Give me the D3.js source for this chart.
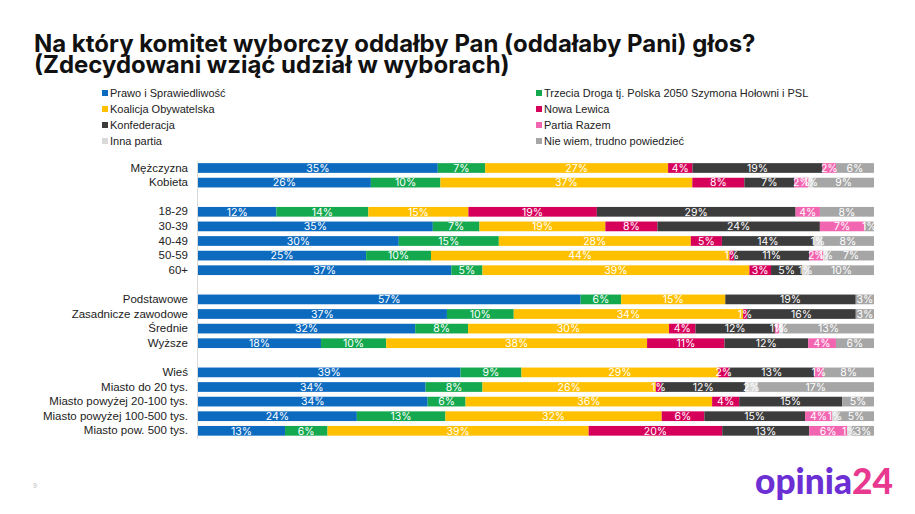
<!DOCTYPE html>
<html><head><meta charset="utf-8">
<script src="https://cdn.jsdelivr.net/npm/d3@7"></script>
<style>
html,body{margin:0;padding:0;background:#fff;}
svg{display:block;}
</style></head>
<body>
<svg id="chart" width="915" height="514"></svg>
<script>
// ---- data ----
const titleLines = ["Na który komitet wyborczy oddałby Pan (oddałaby Pani) głos?", "(Zdecydowani wziąć udział w wyborach)"];
const categories = ["Mężczyzna","Kobieta","","18-29","30-39","40-49","50-59","60+","","Podstawowe","Zasadnicze zawodowe","Średnie","Wyższe","","Wieś","Miasto do 20 tys.","Miasto powyżej 20-100 tys.","Miasto powyżej 100-500 tys.","Miasto pow. 500 tys."];
const seriesNames = ["Prawo i Sprawiedliwość","Trzecia Droga tj. Polska 2050 Szymona Hołowni i PSL","Koalicja Obywatelska","Nowa Lewica","Konfederacja","Partia Razem","Inna partia","Nie wiem, trudno powiedzieć"];
const seriesColors = ["#0d6bbf","#14a84f","#ffc000","#d6005b","#3c3c3c","#f266b1","#d9d9d9","#a6a6a6"];
const pis    = [35.4,25.6,null,11.6,34.7,29.7,24.9,37.4,null,56.6,36.9,32.0,18.1,null,38.8,33.6,33.9,23.5,12.9];
const td     = [7.0,10.3,null,13.6,6.9,14.8,9.6,4.6,null,6.0,9.9,7.8,9.6,null,9.0,8.4,5.6,13.1,6.3];
const ko     = [27.0,37.3,null,14.8,18.6,28.4,44.2,39.4,null,15.4,34.0,29.6,38.4,null,29.1,25.6,36.4,32.0,38.7];
const nl     = [3.6,7.7,null,19.0,7.7,4.6,0.7,3.2,null,0,0.6,3.9,11.4,null,1.6,0.8,4.0,6.3,19.8];
const konf   = [19.2,7.4,null,29.4,24.0,13.6,11.1,4.6,null,19.3,16.1,11.7,12.3,null,12.6,12.4,15.2,14.9,12.9];
const razem  = [2.0,2.1,null,3.6,6.6,0,2.1,0,null,0,0,0.6,4.1,null,1.3,0,0,4.0,5.6];
const inna   = [0,0.7,null,0,0,1.2,0.7,1.0,null,0,0,0.6,0,null,0,1.8,0,0.9,0.7];
const niewiem= [5.6,9.0,null,8.0,1.4,7.7,6.8,9.6,null,2.7,2.7,13.4,5.6,null,7.5,17.2,4.7,5.3,3.3];
const seriesValues = [pis,td,ko,nl,konf,razem,inna,niewiem];

// ---- build table ----
const keys = seriesNames;
const rows = categories.map((c,i)=>{
  const r = {idx:i, label:c, gap: c===""};
  keys.forEach((k,j)=>{ r[k] = seriesValues[j][i] || 0; });
  return r;
});
const dataRows = rows.filter(r=>!r.gap);

const svg = d3.select("#chart");
const W = 915, H = 514;

// title
const titleG = svg.append("g");
const t1 = titleG.append("text").attr("x",34).attr("y",52).text(titleLines[0]);
const t2 = titleG.append("text").attr("x",34).attr("y",73).text(titleLines[1]);
titleG.selectAll("text").attr("font-family","Inter, 'Open Sans', sans-serif").attr("font-weight",700).attr("font-size",22).attr("fill","#111");
const len1 = t1.node().getComputedTextLength();
const fs = 22*722/len1;
titleG.selectAll("text").attr("font-size",fs);

// legend
const legendX = [102, 536];
const legendY = [93, 109, 125, 141];
const lg = svg.append("g");
keys.forEach((k,i)=>{
  const col = i%2, row = Math.floor(i/2);
  const g = lg.append("g").attr("transform",`translate(${legendX[col]},${legendY[row]})`);
  g.append("rect").attr("x",0).attr("y",-3).attr("width",6).attr("height",6).attr("fill",seriesColors[i]);
  g.append("text").attr("x",8).attr("y",0).attr("dy","0.35em")
    .attr("font-family","'Liberation Sans', Arial, sans-serif").attr("font-size",11).attr("fill","#222").text(k);
});

// scales
const x = d3.scaleLinear().domain([0,1]).range([198,874]);
const y = d3.scaleBand().domain(d3.range(categories.length)).range([160.7,438.1]).paddingInner(0.335).paddingOuter(0.1675);
const color = d3.scaleOrdinal().domain(keys).range(seriesColors);

const stack = d3.stack().keys(keys).offset(d3.stackOffsetExpand);
const stacked = stack(dataRows);

const gBars = svg.append("g");
stacked.forEach(layer=>{
  const key = layer.key;
  const lgG = gBars.append("g").attr("fill",color(key));
  lgG.selectAll("rect").data(layer).join("rect")
    .attr("x",d=>x(d[0]))
    .attr("y",d=>y(d.data.idx))
    .attr("width",d=>Math.max(0,x(d[1])-x(d[0])))
    .attr("height",y.bandwidth());
});
// labels
stacked.forEach(layer=>{
  const key = layer.key;
  gBars.append("g").selectAll("text").data(layer.filter(d=>d.data[key]>=0.5)).join("text")
    .attr("x",d=>(x(d[0])+x(d[1]))/2)
    .attr("y",d=>y(d.data.idx)+y.bandwidth()/2)
    .attr("dy","0.36em")
    .attr("text-anchor","middle")
    .attr("font-family","Inter, 'DejaVu Sans', sans-serif")
    .attr("font-size",10.5)
    .attr("fill","#fff")
    .text(d=>Math.round(d.data[key])+"%");
});

// axis
const yAxis = d3.axisLeft(y).tickSize(0).tickPadding(9).tickFormat(i=>categories[i]);
const ax = svg.append("g").attr("transform","translate(197,0)").call(yAxis);
ax.select(".domain").attr("stroke","#d9d9d9");
ax.selectAll("text").attr("font-family","'Liberation Sans', Arial, sans-serif").attr("font-size",11.5).attr("fill","#222");

// page number
svg.append("text").attr("x",33).attr("y",488).attr("font-family","'Liberation Sans', Arial, sans-serif")
  .attr("font-size",7).attr("fill","#bbb").text("9");

// logo
const logo = svg.append("text").attr("x",755).attr("y",494)
  .attr("font-family","Lato, Inter, sans-serif").attr("font-weight",900).attr("font-size",32);
logo.append("tspan").attr("fill","#6b2fd3").text("opinia");
logo.append("tspan").attr("fill","#e8388f").text("24");
const ll = logo.node().getComputedTextLength();
logo.attr("font-size",32*138/ll);
</script>
</body></html>
